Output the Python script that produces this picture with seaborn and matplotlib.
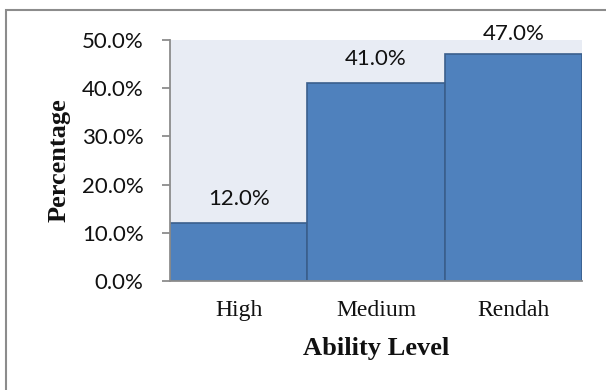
import matplotlib
matplotlib.use("Agg")
import matplotlib.pyplot as plt
import seaborn as sns
import pandas as pd
from matplotlib.ticker import FuncFormatter, MultipleLocator
from matplotlib.patches import Rectangle

levels = ["High", "Medium", "Rendah"]
percentages = [12.0, 41.0, 47.0]

df = pd.DataFrame({"level": levels, "pct": percentages})

sns.set_style("white")
plt.rcParams['font.family'] = ['Lato', 'DejaVu Sans']

W, H = 606, 390
fig = plt.figure(figsize=(W / 100, H / 100), dpi=100)
ax = fig.add_axes([170/W, 1-281/H, (582-170)/W, (281-40)/H])
ax.set_facecolor("#E8ECF4")

sns.barplot(data=df, x="level", y="pct", color="#4F81BD", saturation=1,
            width=1, edgecolor="#3A5F8C", linewidth=1.2, ax=ax)

ax.set_xlim(-0.5, 2.5)
ax.set_ylim(0, 50)
ax.yaxis.set_major_locator(MultipleLocator(10))
ax.yaxis.set_major_formatter(FuncFormatter(lambda v, p: f"{v:.1f}%"))

for s in ["top", "right"]:
    ax.spines[s].set_visible(False)
for s in ["left", "bottom"]:
    ax.spines[s].set_color("#8C8C8C")
    ax.spines[s].set_linewidth(1.3)

ax.tick_params(axis="y", length=6, width=1.3, color="#8C8C8C", labelsize=16,
               pad=13, left=True, labelcolor="#111111")
ax.tick_params(axis="x", length=0, pad=14, labelcolor="#111111")
for lab in ax.get_xticklabels():
    lab.set_fontfamily("Liberation Serif")
    lab.set_fontsize(17)

# value labels: baseline 18 px above bar top, kept below the figure top margin
fig.canvas.draw()
for i, v in enumerate(percentages):
    top_px = ax.transData.transform((i, v))[1]
    base_px = min(top_px + 18, H - 40)
    x_disp = ax.transData.transform((i, v))[0]
    fig.text(x_disp / W, base_px / H, f"{v:.1f}%", ha="center", va="baseline",
             fontsize=16, color="#111111")

ax.set_xlabel("Ability Level", fontfamily="Liberation Serif", fontweight="bold",
              fontsize=19, labelpad=11, color="#111111")
ax.set_ylabel("Percentage", fontfamily="Liberation Serif", fontweight="bold",
              fontsize=19, labelpad=8, color="#111111")

fig.patches.append(Rectangle((6/W, -0.1), 1.2, 1 - 10/H + 0.1, transform=fig.transFigure,
                             fill=False, edgecolor="#8C8C8C", linewidth=1.5, zorder=-1))

fig.savefig("out.png", dpi=100)
